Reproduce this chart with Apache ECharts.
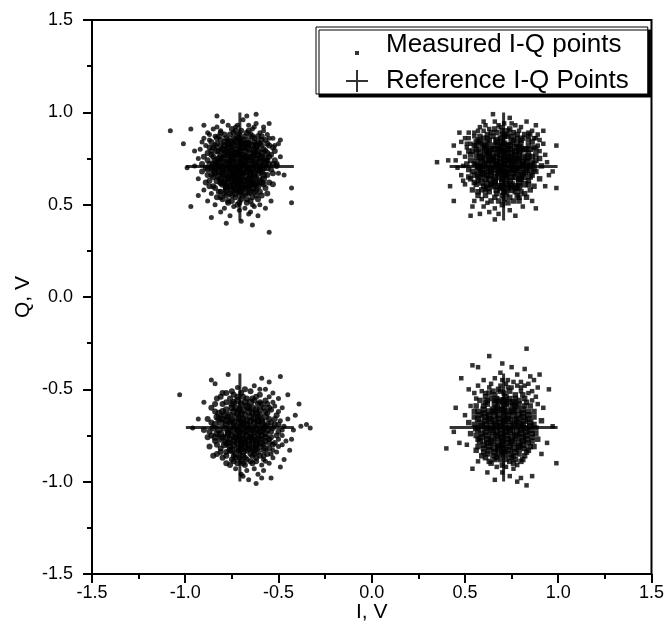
<!DOCTYPE html>
<html>
<head>
<meta charset="utf-8">
<script src="https://cdn.jsdelivr.net/npm/echarts@6/dist/echarts.min.js"></script>
<style>
html,body{margin:0;padding:0;background:#fff;}
#chart{width:667px;height:639px;}
</style>
</head>
<body>
<div id="chart"></div>
<script>
// ---- data (I, Q in volts) ----
const measuredTL = [
[-1.08,0.90],[-0.97,0.91],[-1.01,0.83],[-0.83,0.98],[-0.67,0.98],[-0.62,0.99],[-0.55,0.94],[-0.43,0.59],[-0.43,0.51],[-0.55,0.35],[-0.97,0.49],[-0.93,0.55],[-0.70,0.41],[-0.86,0.43],[-0.54,0.52],[-0.57,0.48],[-0.95,0.79],[-0.51,0.72],[-0.52,0.79],[-0.99,0.70],[-0.47,0.66],[-0.49,0.85],[-0.90,0.93],[-0.78,0.40],[-0.61,0.44],[-0.64,0.39],
[-0.80,0.95],[-0.69,0.96],[-0.62,0.94],
[-0.77,0.93],[-0.73,0.92],[-0.66,0.93],[-0.58,0.92],
[-0.85,0.91],[-0.81,0.90],[-0.75,0.91],[-0.70,0.90],[-0.64,0.91],[-0.60,0.89],
[-0.88,0.89],[-0.79,0.88],[-0.74,0.89],[-0.71,0.88],[-0.67,0.89],[-0.61,0.87],[-0.56,0.88],
[-0.90,0.86],[-0.84,0.87],[-0.78,0.86],[-0.72,0.87],[-0.69,0.85],[-0.63,0.86],[-0.59,0.87],[-0.53,0.86],
[-0.86,0.84],[-0.81,0.85],[-0.76,0.84],[-0.73,0.85],[-0.70,0.84],[-0.66,0.85],[-0.61,0.84],[-0.57,0.85],
[-0.89,0.82],[-0.83,0.83],[-0.79,0.82],[-0.75,0.83],[-0.71,0.82],[-0.68,0.83],[-0.64,0.82],[-0.60,0.83],[-0.55,0.82],[-0.50,0.83],
[-0.92,0.80],[-0.85,0.81],[-0.80,0.80],[-0.77,0.81],[-0.73,0.80],[-0.70,0.81],[-0.66,0.80],[-0.62,0.81],[-0.58,0.80],[-0.53,0.81],
[-0.88,0.78],[-0.83,0.79],[-0.78,0.78],[-0.75,0.79],[-0.72,0.78],[-0.68,0.79],[-0.65,0.78],[-0.61,0.79],[-0.56,0.78],
[-0.90,0.76],[-0.86,0.77],[-0.81,0.76],[-0.77,0.77],[-0.74,0.76],[-0.71,0.77],[-0.67,0.76],[-0.63,0.77],[-0.59,0.76],[-0.54,0.77],[-0.49,0.76],
[-0.93,0.75],[-0.84,0.74],[-0.80,0.75],[-0.76,0.74],[-0.73,0.75],[-0.69,0.74],[-0.66,0.75],[-0.62,0.74],[-0.57,0.75],[-0.52,0.74],
[-0.87,0.72],[-0.82,0.73],[-0.78,0.72],[-0.75,0.73],[-0.71,0.72],[-0.68,0.73],[-0.64,0.72],[-0.60,0.73],[-0.55,0.72],
[-0.95,0.71],[-0.89,0.70],[-0.84,0.71],[-0.80,0.70],[-0.76,0.71],[-0.73,0.70],[-0.70,0.71],[-0.66,0.70],[-0.62,0.71],[-0.58,0.70],[-0.51,0.71],
[-0.91,0.68],[-0.86,0.69],[-0.82,0.68],[-0.78,0.69],[-0.74,0.68],[-0.71,0.69],[-0.67,0.68],[-0.64,0.69],[-0.59,0.68],[-0.54,0.69],
[-0.88,0.66],[-0.84,0.67],[-0.79,0.66],[-0.76,0.67],[-0.72,0.66],[-0.69,0.67],[-0.65,0.66],[-0.61,0.67],[-0.56,0.66],[-0.50,0.67],
[-0.93,0.64],[-0.85,0.65],[-0.81,0.64],[-0.77,0.65],[-0.73,0.64],[-0.70,0.65],[-0.66,0.64],[-0.63,0.65],[-0.58,0.64],
[-0.89,0.62],[-0.83,0.63],[-0.79,0.62],[-0.75,0.63],[-0.71,0.62],[-0.68,0.63],[-0.64,0.62],[-0.60,0.63],[-0.55,0.62],
[-0.87,0.60],[-0.80,0.61],[-0.76,0.60],[-0.72,0.61],[-0.69,0.60],[-0.65,0.61],[-0.61,0.60],[-0.53,0.61],
[-0.90,0.58],[-0.84,0.59],[-0.78,0.58],[-0.74,0.59],[-0.70,0.58],[-0.66,0.59],[-0.62,0.58],[-0.57,0.59],
[-0.86,0.56],[-0.81,0.57],[-0.76,0.56],[-0.71,0.57],[-0.68,0.56],[-0.63,0.57],[-0.56,0.56],
[-0.83,0.54],[-0.78,0.55],[-0.73,0.54],[-0.69,0.55],[-0.64,0.54],[-0.59,0.55],
[-0.88,0.52],[-0.80,0.53],[-0.75,0.52],[-0.70,0.53],[-0.65,0.52],[-0.61,0.53],
[-0.84,0.50],[-0.77,0.51],[-0.72,0.50],[-0.67,0.51],[-0.60,0.50],
[-0.79,0.48],[-0.74,0.49],[-0.68,0.48],[-0.63,0.49],
[-0.81,0.46],[-0.71,0.47],[-0.65,0.46],
[-0.76,0.44],[-0.66,0.45],
[-0.82,0.87],[-0.76,0.88],[-0.68,0.87],[-0.65,0.88],
[-0.87,0.85],[-0.79,0.84],[-0.74,0.86],[-0.67,0.83],[-0.63,0.84],[-0.59,0.85],
[-0.84,0.82],[-0.77,0.83],[-0.72,0.84],[-0.69,0.81],[-0.62,0.82],[-0.56,0.83],
[-0.82,0.79],[-0.76,0.80],[-0.71,0.79],[-0.67,0.81],[-0.63,0.80],[-0.59,0.78],
[-0.85,0.76],[-0.79,0.77],[-0.75,0.77],[-0.70,0.75],[-0.64,0.76],[-0.60,0.75],[-0.55,0.76],
[-0.83,0.73],[-0.77,0.74],[-0.72,0.73],[-0.67,0.72],[-0.63,0.73],[-0.58,0.72],
[-0.86,0.70],[-0.81,0.71],[-0.75,0.70],[-0.71,0.70],[-0.68,0.71],[-0.64,0.70],[-0.60,0.71],
[-0.84,0.68],[-0.80,0.67],[-0.76,0.68],[-0.73,0.67],[-0.69,0.68],[-0.65,0.67],[-0.61,0.69],
[-0.82,0.65],[-0.78,0.64],[-0.74,0.65],[-0.71,0.64],[-0.67,0.65],[-0.62,0.64],
[-0.80,0.62],[-0.77,0.61],[-0.73,0.62],[-0.70,0.61],[-0.66,0.62],[-0.62,0.61],
[-0.78,0.59],[-0.73,0.58],[-0.68,0.59],[-0.64,0.59],
[-0.79,0.56],[-0.73,0.56],[-0.66,0.56],
[-0.83,0.92],[-0.72,0.93],[-0.63,0.92],
[-0.87,0.88],[-0.81,0.89],[-0.73,0.90],[-0.66,0.90],[-0.58,0.90],
[-0.91,0.84],[-0.83,0.86],[-0.77,0.85],[-0.71,0.86],[-0.64,0.87],[-0.55,0.86],
[-0.87,0.81],[-0.81,0.82],[-0.74,0.82],[-0.66,0.83],[-0.59,0.82],[-0.52,0.82],
[-0.86,0.79],[-0.79,0.80],[-0.73,0.78],[-0.69,0.77],[-0.63,0.78],[-0.57,0.79],
[-0.88,0.74],[-0.82,0.75],[-0.75,0.76],[-0.68,0.76],[-0.61,0.77],[-0.56,0.74],
[-0.91,0.72],[-0.85,0.72],[-0.79,0.73],[-0.74,0.72],[-0.69,0.72],[-0.65,0.74],[-0.57,0.73],[-0.53,0.72],
[-0.88,0.69],[-0.83,0.70],[-0.77,0.70],[-0.72,0.69],[-0.66,0.69],[-0.60,0.69],[-0.56,0.70],
[-0.86,0.66],[-0.80,0.68],[-0.74,0.66],[-0.70,0.67],[-0.63,0.67],[-0.58,0.66],[-0.53,0.67],
[-0.87,0.63],[-0.81,0.62],[-0.76,0.64],[-0.69,0.63],[-0.65,0.64],[-0.59,0.62],
[-0.85,0.60],[-0.78,0.60],[-0.74,0.61],[-0.67,0.60],[-0.63,0.61],[-0.58,0.61],
[-0.82,0.57],[-0.75,0.58],[-0.71,0.59],[-0.65,0.57],[-0.60,0.57],
[-0.81,0.54],[-0.75,0.55],[-0.67,0.53],[-0.62,0.55],
[-0.77,0.52],[-0.71,0.51],[-0.64,0.50]
];
const measuredTR = [
[0.35,0.73],[0.41,0.74],[0.65,0.99],[0.74,0.97],[0.88,0.93],[0.99,0.82],[0.97,0.68],[0.99,0.59],[0.88,0.48],[0.53,0.44],[0.58,0.45],[0.44,0.52],[0.42,0.60],[0.49,0.63],[0.44,0.82],[0.47,0.89],[0.54,0.49],[0.70,0.50],[0.79,0.54],[0.94,0.73],[0.92,0.90],[0.66,0.42],[0.63,0.46],[0.46,0.70],[0.83,0.95],[0.60,0.95],[0.93,0.60],
[0.66,0.95],[0.71,0.94],[0.77,0.93],
[0.58,0.92],[0.63,0.91],[0.69,0.92],[0.74,0.91],[0.80,0.92],[0.86,0.90],
[0.52,0.89],[0.57,0.90],[0.62,0.88],[0.67,0.89],[0.72,0.88],[0.76,0.89],[0.82,0.88],[0.89,0.88],
[0.50,0.86],[0.55,0.87],[0.60,0.86],[0.65,0.87],[0.69,0.86],[0.73,0.87],[0.78,0.86],[0.84,0.87],[0.90,0.85],
[0.48,0.84],[0.53,0.83],[0.58,0.84],[0.62,0.83],[0.67,0.84],[0.71,0.83],[0.75,0.84],[0.80,0.83],[0.86,0.84],[0.92,0.83],
[0.51,0.81],[0.56,0.82],[0.60,0.81],[0.64,0.80],[0.69,0.81],[0.73,0.80],[0.77,0.81],[0.82,0.80],[0.87,0.81],
[0.47,0.78],[0.54,0.79],[0.58,0.78],[0.63,0.79],[0.67,0.78],[0.71,0.79],[0.75,0.78],[0.79,0.79],[0.84,0.78],[0.90,0.79],
[0.50,0.76],[0.56,0.76],[0.61,0.77],[0.65,0.76],[0.69,0.77],[0.73,0.76],[0.77,0.77],[0.81,0.76],[0.86,0.76],[0.93,0.77],
[0.45,0.74],[0.53,0.74],[0.59,0.73],[0.63,0.74],[0.67,0.73],[0.71,0.74],[0.75,0.73],[0.79,0.74],[0.83,0.73],[0.88,0.74],
[0.49,0.71],[0.55,0.72],[0.60,0.71],[0.65,0.72],[0.69,0.71],[0.73,0.72],[0.77,0.71],[0.81,0.72],[0.85,0.71],[0.91,0.71],
[0.52,0.69],[0.57,0.69],[0.62,0.68],[0.66,0.69],[0.70,0.68],[0.74,0.69],[0.78,0.68],[0.83,0.69],[0.88,0.68],
[0.48,0.66],[0.55,0.66],[0.59,0.67],[0.64,0.66],[0.68,0.67],[0.72,0.66],[0.76,0.67],[0.80,0.66],[0.86,0.66],[0.95,0.66],
[0.53,0.64],[0.57,0.63],[0.61,0.64],[0.66,0.63],[0.70,0.64],[0.74,0.63],[0.79,0.64],[0.84,0.63],[0.90,0.64],
[0.50,0.61],[0.56,0.61],[0.60,0.60],[0.64,0.61],[0.68,0.60],[0.72,0.61],[0.77,0.60],[0.82,0.61],[0.87,0.60],
[0.54,0.58],[0.59,0.58],[0.63,0.57],[0.67,0.58],[0.71,0.57],[0.75,0.58],[0.80,0.57],[0.85,0.58],
[0.57,0.55],[0.61,0.55],[0.66,0.54],[0.70,0.55],[0.74,0.54],[0.78,0.55],[0.83,0.54],
[0.55,0.52],[0.62,0.51],[0.68,0.52],[0.73,0.51],[0.76,0.52],[0.86,0.52],
[0.60,0.49],[0.66,0.48],[0.74,0.47],[0.81,0.49],
[0.68,0.45],[0.77,0.44],
[0.64,0.89],[0.70,0.90],[0.78,0.88],[0.84,0.89],
[0.57,0.85],[0.62,0.86],[0.67,0.85],[0.71,0.87],[0.76,0.85],[0.81,0.86],[0.87,0.86],
[0.55,0.82],[0.59,0.83],[0.65,0.82],[0.70,0.84],[0.73,0.82],[0.78,0.83],[0.84,0.82],
[0.56,0.79],[0.61,0.80],[0.66,0.80],[0.70,0.79],[0.74,0.80],[0.80,0.80],[0.85,0.80],
[0.58,0.76],[0.63,0.77],[0.67,0.76],[0.71,0.76],[0.75,0.76],[0.79,0.77],[0.84,0.76],[0.88,0.77],
[0.56,0.73],[0.61,0.74],[0.65,0.74],[0.69,0.73],[0.73,0.74],[0.77,0.74],[0.81,0.73],[0.86,0.73],
[0.58,0.70],[0.63,0.70],[0.67,0.71],[0.71,0.70],[0.75,0.70],[0.79,0.70],[0.83,0.71],
[0.60,0.67],[0.64,0.68],[0.68,0.68],[0.72,0.68],[0.76,0.69],[0.81,0.67],[0.85,0.68],
[0.58,0.65],[0.63,0.64],[0.68,0.65],[0.72,0.64],[0.77,0.65],[0.82,0.65],
[0.62,0.61],[0.66,0.62],[0.70,0.62],[0.75,0.61],[0.79,0.62],
[0.61,0.58],[0.69,0.59],[0.73,0.59],[0.78,0.59],
[0.61,0.93],[0.68,0.93],[0.75,0.94],
[0.55,0.89],[0.60,0.90],[0.66,0.91],[0.73,0.90],[0.79,0.90],[0.85,0.88],
[0.52,0.86],[0.58,0.87],[0.63,0.85],[0.70,0.88],[0.75,0.87],[0.80,0.85],[0.88,0.86],
[0.51,0.83],[0.56,0.84],[0.61,0.82],[0.68,0.82],[0.74,0.82],[0.79,0.81],[0.84,0.85],[0.89,0.82],
[0.52,0.79],[0.57,0.80],[0.62,0.78],[0.68,0.80],[0.72,0.78],[0.77,0.79],[0.83,0.80],[0.88,0.80],
[0.53,0.77],[0.59,0.75],[0.64,0.75],[0.69,0.75],[0.74,0.75],[0.78,0.75],[0.83,0.75],[0.90,0.75],
[0.51,0.72],[0.57,0.71],[0.62,0.72],[0.67,0.72],[0.71,0.72],[0.76,0.73],[0.80,0.71],[0.87,0.72],
[0.54,0.68],[0.59,0.69],[0.64,0.69],[0.69,0.69],[0.73,0.67],[0.77,0.69],[0.82,0.68],[0.87,0.69],
[0.52,0.65],[0.57,0.66],[0.62,0.66],[0.66,0.65],[0.71,0.66],[0.75,0.65],[0.80,0.64],[0.85,0.65],
[0.55,0.62],[0.59,0.62],[0.65,0.60],[0.70,0.60],[0.74,0.60],[0.79,0.60],[0.84,0.61],
[0.57,0.57],[0.62,0.59],[0.67,0.56],[0.72,0.56],[0.77,0.57],[0.82,0.56],
[0.59,0.53],[0.64,0.52],[0.71,0.53],[0.79,0.52]
];
const measuredBL = [
[-1.03,-0.53],[-0.96,-0.71],[-0.77,-0.42],[-0.86,-0.45],[-0.84,-0.47],[-0.49,-0.43],[-0.59,-0.44],[-0.39,-0.58],[-0.45,-0.53],[-0.38,-0.70],[-0.35,-0.69],[-0.33,-0.71],[-0.43,-0.77],[-0.44,-0.83],[-0.49,-0.92],[-0.59,-0.98],[-0.54,-0.98],[-0.78,-0.90],[-0.85,-0.86],[-0.88,-0.76],[-0.90,-0.57],[-0.80,-0.52],[-0.66,-0.99],[-0.62,-1.01],[-0.47,-0.88],[-0.41,-0.64],[-0.93,-0.66],[-0.55,-0.46],[-0.70,-0.96],
[-0.72,-0.49],[-0.63,-0.48],[-0.57,-0.50],
[-0.78,-0.52],[-0.70,-0.52],[-0.65,-0.51],[-0.60,-0.53],[-0.53,-0.52],
[-0.83,-0.55],[-0.76,-0.55],[-0.72,-0.54],[-0.67,-0.55],[-0.62,-0.54],[-0.57,-0.56],[-0.50,-0.55],
[-0.80,-0.58],[-0.74,-0.57],[-0.70,-0.58],[-0.65,-0.57],[-0.61,-0.58],[-0.56,-0.58],[-0.52,-0.59],
[-0.86,-0.60],[-0.78,-0.61],[-0.73,-0.60],[-0.69,-0.61],[-0.66,-0.60],[-0.62,-0.61],[-0.58,-0.60],[-0.54,-0.61],[-0.48,-0.60],
[-0.82,-0.63],[-0.76,-0.64],[-0.72,-0.63],[-0.68,-0.64],[-0.64,-0.63],[-0.60,-0.64],[-0.56,-0.63],[-0.51,-0.64],
[-0.88,-0.66],[-0.80,-0.66],[-0.75,-0.67],[-0.71,-0.66],[-0.67,-0.67],[-0.63,-0.66],[-0.59,-0.67],[-0.55,-0.66],[-0.49,-0.67],[-0.45,-0.66],
[-0.84,-0.69],[-0.78,-0.69],[-0.73,-0.70],[-0.69,-0.69],[-0.65,-0.70],[-0.61,-0.69],[-0.57,-0.70],[-0.52,-0.69],[-0.47,-0.70],
[-0.90,-0.72],[-0.82,-0.72],[-0.77,-0.73],[-0.72,-0.72],[-0.68,-0.73],[-0.64,-0.72],[-0.60,-0.73],[-0.56,-0.72],[-0.50,-0.73],[-0.42,-0.72],
[-0.86,-0.75],[-0.80,-0.76],[-0.75,-0.75],[-0.71,-0.76],[-0.67,-0.75],[-0.63,-0.76],[-0.59,-0.75],[-0.54,-0.76],[-0.48,-0.75],
[-0.84,-0.78],[-0.78,-0.79],[-0.74,-0.78],[-0.70,-0.79],[-0.66,-0.78],[-0.62,-0.79],[-0.57,-0.78],[-0.52,-0.79],[-0.46,-0.78],
[-0.87,-0.81],[-0.81,-0.82],[-0.76,-0.81],[-0.72,-0.82],[-0.68,-0.81],[-0.64,-0.82],[-0.60,-0.81],[-0.55,-0.82],[-0.50,-0.81],
[-0.83,-0.85],[-0.78,-0.84],[-0.73,-0.85],[-0.69,-0.84],[-0.65,-0.85],[-0.61,-0.84],[-0.56,-0.85],[-0.51,-0.84],
[-0.80,-0.87],[-0.75,-0.88],[-0.71,-0.87],[-0.67,-0.88],[-0.62,-0.87],[-0.58,-0.88],[-0.53,-0.87],
[-0.76,-0.91],[-0.72,-0.90],[-0.68,-0.91],[-0.64,-0.90],[-0.59,-0.91],[-0.55,-0.90],
[-0.73,-0.93],[-0.67,-0.94],[-0.63,-0.93],[-0.58,-0.94],
[-0.69,-0.97],[-0.61,-0.96],
[-0.75,-0.58],[-0.67,-0.59],[-0.60,-0.57],
[-0.80,-0.62],[-0.74,-0.62],[-0.70,-0.63],[-0.66,-0.62],[-0.62,-0.63],[-0.57,-0.62],
[-0.83,-0.65],[-0.77,-0.65],[-0.73,-0.65],[-0.69,-0.66],[-0.65,-0.65],[-0.61,-0.65],[-0.57,-0.65],[-0.52,-0.66],
[-0.81,-0.68],[-0.76,-0.68],[-0.71,-0.68],[-0.67,-0.69],[-0.63,-0.68],[-0.59,-0.68],[-0.54,-0.68],
[-0.85,-0.71],[-0.79,-0.71],[-0.74,-0.71],[-0.70,-0.71],[-0.66,-0.71],[-0.62,-0.71],[-0.58,-0.71],[-0.53,-0.71],
[-0.83,-0.74],[-0.77,-0.74],[-0.73,-0.74],[-0.69,-0.74],[-0.65,-0.74],[-0.61,-0.74],[-0.57,-0.74],[-0.51,-0.75],
[-0.81,-0.77],[-0.76,-0.77],[-0.72,-0.77],[-0.68,-0.77],[-0.64,-0.77],[-0.60,-0.77],[-0.55,-0.77],
[-0.79,-0.80],[-0.74,-0.80],[-0.70,-0.80],[-0.66,-0.80],[-0.62,-0.80],[-0.58,-0.80],[-0.53,-0.80],
[-0.76,-0.83],[-0.71,-0.83],[-0.67,-0.83],[-0.63,-0.83],[-0.58,-0.83],
[-0.74,-0.86],[-0.69,-0.86],[-0.64,-0.86],[-0.60,-0.86],
[-0.70,-0.89],[-0.65,-0.89],
[-0.75,-0.51],[-0.68,-0.50],[-0.60,-0.50],
[-0.81,-0.54],[-0.74,-0.53],[-0.69,-0.54],[-0.64,-0.55],[-0.55,-0.54],
[-0.84,-0.58],[-0.78,-0.57],[-0.72,-0.56],[-0.68,-0.57],[-0.63,-0.56],[-0.59,-0.58],[-0.53,-0.57],
[-0.84,-0.62],[-0.79,-0.64],[-0.75,-0.60],[-0.71,-0.61],[-0.64,-0.60],[-0.60,-0.61],[-0.55,-0.60],[-0.50,-0.62],
[-0.86,-0.68],[-0.82,-0.66],[-0.78,-0.67],[-0.74,-0.68],[-0.69,-0.68],[-0.65,-0.67],[-0.61,-0.67],[-0.56,-0.69],[-0.50,-0.69],
[-0.87,-0.73],[-0.81,-0.74],[-0.76,-0.72],[-0.71,-0.73],[-0.67,-0.72],[-0.63,-0.73],[-0.59,-0.72],[-0.54,-0.73],[-0.48,-0.72],
[-0.84,-0.76],[-0.78,-0.76],[-0.73,-0.76],[-0.69,-0.77],[-0.65,-0.76],[-0.61,-0.77],[-0.57,-0.76],[-0.50,-0.77],
[-0.83,-0.80],[-0.77,-0.79],[-0.72,-0.79],[-0.68,-0.79],[-0.64,-0.79],[-0.59,-0.79],[-0.55,-0.79],[-0.48,-0.80],
[-0.81,-0.84],[-0.75,-0.83],[-0.70,-0.82],[-0.66,-0.82],[-0.62,-0.82],[-0.57,-0.82],[-0.53,-0.83],
[-0.78,-0.86],[-0.73,-0.87],[-0.68,-0.87],[-0.63,-0.85],[-0.58,-0.86],[-0.54,-0.85],
[-0.74,-0.89],[-0.69,-0.90],[-0.62,-0.89],[-0.57,-0.89]
];
const measuredBR = [
[0.83,-0.28],[0.63,-0.32],[0.54,-0.37],[0.57,-0.38],[0.82,-0.39],[0.48,-0.44],[0.95,-0.50],[0.45,-0.60],[0.50,-0.64],[0.40,-0.82],[0.47,-0.79],[0.99,-0.90],[0.94,-0.79],[0.54,-0.93],[0.62,-0.95],[0.76,-0.93],[0.66,-0.99],[0.80,-0.98],[0.83,-1.02],[0.78,-1.00],[0.44,-0.73],[0.97,-0.70],[0.90,-0.42],[0.75,-0.38],[0.70,-0.36],[0.52,-0.50],[0.92,-0.60],[0.86,-0.97],
[0.69,-0.41],[0.78,-0.42],[0.85,-0.43],
[0.60,-0.45],[0.66,-0.44],[0.73,-0.45],[0.80,-0.46],[0.87,-0.45],
[0.57,-0.48],[0.63,-0.49],[0.69,-0.48],[0.75,-0.49],[0.82,-0.48],[0.89,-0.49],
[0.55,-0.52],[0.61,-0.52],[0.66,-0.53],[0.71,-0.52],[0.77,-0.53],[0.84,-0.52],
[0.58,-0.56],[0.64,-0.55],[0.69,-0.56],[0.74,-0.55],[0.79,-0.56],[0.86,-0.56],
[0.53,-0.59],[0.60,-0.59],[0.66,-0.58],[0.71,-0.59],[0.76,-0.58],[0.82,-0.59],[0.89,-0.58],
[0.57,-0.62],[0.63,-0.62],[0.68,-0.61],[0.73,-0.62],[0.78,-0.61],[0.84,-0.62],
[0.55,-0.65],[0.61,-0.65],[0.66,-0.64],[0.71,-0.65],[0.76,-0.64],[0.81,-0.65],[0.87,-0.65],
[0.52,-0.68],[0.58,-0.68],[0.64,-0.67],[0.69,-0.68],[0.74,-0.67],[0.79,-0.68],[0.85,-0.68],[0.91,-0.67],
[0.56,-0.71],[0.62,-0.71],[0.67,-0.70],[0.72,-0.71],[0.77,-0.70],[0.82,-0.71],[0.88,-0.71],
[0.53,-0.74],[0.59,-0.74],[0.65,-0.73],[0.70,-0.74],[0.75,-0.73],[0.80,-0.74],[0.86,-0.74],
[0.57,-0.77],[0.62,-0.77],[0.68,-0.76],[0.73,-0.77],[0.78,-0.76],[0.83,-0.77],[0.89,-0.77],
[0.51,-0.80],[0.60,-0.80],[0.65,-0.79],[0.70,-0.80],[0.76,-0.79],[0.81,-0.80],[0.87,-0.81],
[0.56,-0.83],[0.63,-0.83],[0.68,-0.82],[0.73,-0.83],[0.79,-0.82],[0.84,-0.83],
[0.59,-0.86],[0.65,-0.86],[0.71,-0.85],[0.76,-0.86],[0.82,-0.86],[0.91,-0.85],
[0.57,-0.89],[0.63,-0.89],[0.69,-0.88],[0.74,-0.89],[0.80,-0.89],
[0.67,-0.92],[0.72,-0.92],[0.78,-0.91],
[0.70,-0.95],[0.74,-0.97],
[0.72,-0.47],[0.78,-0.48],
[0.65,-0.51],[0.69,-0.51],[0.74,-0.51],[0.80,-0.51],
[0.61,-0.54],[0.67,-0.55],[0.72,-0.54],[0.77,-0.55],[0.82,-0.55],
[0.62,-0.58],[0.68,-0.57],[0.73,-0.57],[0.79,-0.58],[0.85,-0.59],
[0.60,-0.61],[0.65,-0.61],[0.70,-0.61],[0.75,-0.61],[0.81,-0.61],
[0.58,-0.64],[0.63,-0.64],[0.68,-0.64],[0.73,-0.64],[0.79,-0.64],[0.84,-0.64],
[0.61,-0.67],[0.66,-0.67],[0.71,-0.67],[0.77,-0.67],[0.82,-0.67],
[0.59,-0.70],[0.64,-0.70],[0.69,-0.70],[0.74,-0.70],[0.80,-0.70],[0.85,-0.70],
[0.61,-0.73],[0.67,-0.73],[0.72,-0.73],[0.78,-0.73],[0.83,-0.73],
[0.59,-0.76],[0.65,-0.76],[0.70,-0.76],[0.75,-0.76],[0.81,-0.76],[0.86,-0.76],
[0.62,-0.79],[0.68,-0.79],[0.73,-0.79],[0.79,-0.79],[0.84,-0.79],
[0.60,-0.82],[0.66,-0.82],[0.71,-0.82],[0.76,-0.82],[0.82,-0.82],
[0.62,-0.85],[0.68,-0.85],[0.74,-0.85],[0.79,-0.85],
[0.66,-0.88],[0.72,-0.88],[0.77,-0.88],
[0.64,-0.47],[0.70,-0.45],[0.76,-0.46],[0.84,-0.47],
[0.59,-0.51],[0.63,-0.52],[0.68,-0.50],[0.73,-0.49],[0.80,-0.49],[0.86,-0.51],
[0.56,-0.55],[0.62,-0.56],[0.66,-0.56],[0.71,-0.56],[0.76,-0.57],[0.81,-0.53],[0.88,-0.54],
[0.56,-0.59],[0.61,-0.57],[0.67,-0.60],[0.72,-0.58],[0.77,-0.59],[0.83,-0.57],
[0.55,-0.62],[0.60,-0.63],[0.66,-0.62],[0.71,-0.62],[0.76,-0.62],[0.81,-0.63],[0.87,-0.62],
[0.57,-0.66],[0.63,-0.66],[0.68,-0.66],[0.73,-0.66],[0.78,-0.66],[0.84,-0.66],
[0.55,-0.69],[0.61,-0.69],[0.66,-0.69],[0.71,-0.69],[0.76,-0.69],[0.81,-0.69],[0.87,-0.69],
[0.57,-0.72],[0.64,-0.72],[0.69,-0.72],[0.74,-0.72],[0.80,-0.72],[0.85,-0.72],
[0.56,-0.75],[0.62,-0.75],[0.67,-0.75],[0.72,-0.75],[0.77,-0.75],[0.83,-0.75],[0.88,-0.74],
[0.58,-0.78],[0.64,-0.78],[0.70,-0.78],[0.75,-0.78],[0.81,-0.78],[0.86,-0.78],
[0.57,-0.81],[0.63,-0.81],[0.68,-0.81],[0.74,-0.81],[0.79,-0.81],[0.85,-0.81],
[0.60,-0.84],[0.66,-0.84],[0.70,-0.84],[0.77,-0.84],[0.83,-0.84],
[0.61,-0.87],[0.67,-0.87],[0.75,-0.87],[0.81,-0.88],
[0.64,-0.90],[0.70,-0.91],[0.76,-0.90]
];
const referencePoints = [[-0.707,0.707],[0.707,0.707],[-0.707,-0.707],[0.707,-0.707]];
const seriesNames = ['Measured I-Q points', 'Reference I-Q Points'];
const axisNames = {x: 'I, V', y: 'Q, V'};
const axisMin = -1.5, axisMax = 1.5, axisStep = 0.5;

// ---- drawing ----
const FONT = '"Liberation Sans", Arial, Helvetica, sans-serif';
const crossSymbol = 'path://M-54,-1.5L54,-1.5L54,1.5L-54,1.5Z M-1.5,-54L1.5,-54L1.5,54L-1.5,54Z';
const legendDot = 'path://M0,0L0,0Z M48,22L48,22Z M22,17L26,17L26,21L22,21Z';
const legendCross = 'path://M0,0L0,0Z M48,22L48,22Z M13,10L35,10L35,12L13,12Z M23,0L25,0L25,22L23,22Z';

// marks in the dense middle of each constellation cloud are drawn a little larger so that the
// overlapping dots merge into a solid core, as in the original raster
function dotSize(base) {
  return function (val) {
    let d = Infinity;
    referencePoints.forEach(r => { d = Math.min(d, Math.hypot(val[0] - r[0], val[1] - r[1])); });
    return d < 0.15 ? base + 2 : (d < 0.21 ? base + 1 : base);
  };
}

function makeAxis(name, isY) {
  return {
    type: 'value', min: axisMin, max: axisMax, interval: axisStep,
    name: name, nameLocation: 'middle', nameGap: isY ? 58 : 28, nameMoveOverlap: false,
    nameTextStyle: {fontFamily: FONT, fontSize: 21, color: '#000'},
    axisLine: {show: true, onZero: false, lineStyle: {color: '#000', width: 2}},
    axisTick: {show: true, inside: false, length: 9, lineStyle: {color: '#000', width: 2}},
    minorTick: {show: true, splitNumber: 2, length: 5, lineStyle: {color: '#000', width: 2}},
    splitLine: {show: false}, minorSplitLine: {show: false},
    axisLabel: {
      fontFamily: FONT, fontSize: 18, color: '#000', margin: isY ? 19 : 10,
      formatter: v => v.toFixed(1), showMinLabel: true, showMaxLabel: true
    }
  };
}

const chart = echarts.init(document.getElementById('chart'), null, {renderer: 'canvas'});
chart.setOption({
  animation: false,
  backgroundColor: '#fff',
  grid: {left: 92, right: 14, top: 20, bottom: 65, show: true, borderColor: '#000', borderWidth: 2, containLabel: false},
  xAxis: makeAxis(axisNames.x, false),
  yAxis: makeAxis(axisNames.y, true),
  legend: {
    orient: 'vertical', left: 316, top: 27,
    itemWidth: 48, itemHeight: 22, itemGap: 10,
    padding: [5, 19, 0, 17],
    backgroundColor: '#fff', borderColor: '#000', borderWidth: 1,
    shadowColor: '#000', shadowOffsetX: 3, shadowOffsetY: 3, shadowBlur: 0,
    textStyle: {fontFamily: FONT, fontSize: 26, lineHeight: 24, color: '#000'},
    data: [
      {name: seriesNames[0], icon: legendDot},
      {name: seriesNames[1], icon: legendCross}
    ],
    selectedMode: false
  },
  series: [
    {
      name: seriesNames[1], type: 'scatter', symbol: crossSymbol, symbolSize: 108,
      itemStyle: {color: '#000'}, data: referencePoints, z: 3, silent: true
    },
    {
      name: seriesNames[0], type: 'scatter', symbol: 'circle', symbolSize: dotSize(5),
      itemStyle: {color: '#000'}, data: measuredTL.concat(measuredBL), z: 2, silent: true
    },
    {
      name: seriesNames[0], type: 'scatter', symbol: 'rect', symbolSize: dotSize(4.5),
      itemStyle: {color: '#000'}, data: measuredTR.concat(measuredBR), z: 2, silent: true
    }
  ]
});
</script>
</body>
</html>
